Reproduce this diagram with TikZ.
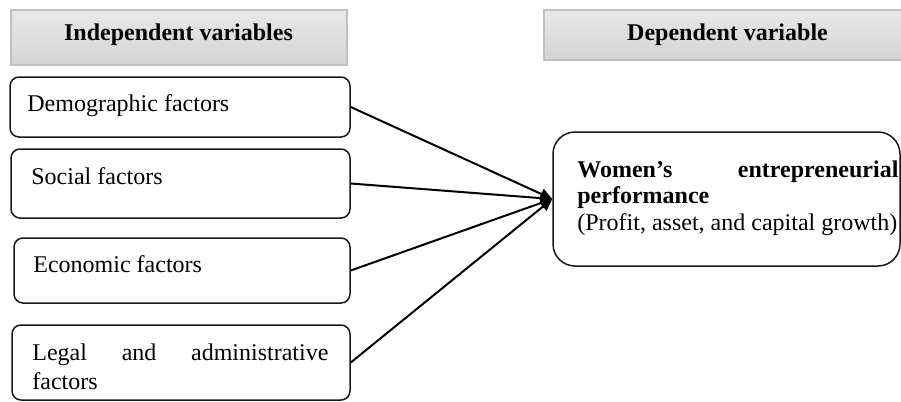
\documentclass[tikz,border=0pt]{standalone}
\usepackage{fontspec}
\setmainfont{Liberation Serif}
\usetikzlibrary{arrows.meta}
\definecolor{hdrtop}{RGB}{232,232,232}
\definecolor{hdrbot}{RGB}{212,212,212}
\definecolor{hdrline}{RGB}{192,192,192}
\tikzset{
  hdr/.style={rectangle, draw=hdrline, line width=0.6pt, top color=hdrtop, bottom color=hdrbot, inner sep=0pt},
  hdrtxt/.style={inner sep=0pt, anchor=base, font=\fontsize{12pt}{14pt}\selectfont\bfseries},
  fbox/.style={rectangle, rounded corners=4.5pt, draw=black!90, line width=0.75pt, inner sep=0pt},
  rbox/.style={rectangle, rounded corners=11pt, draw=black!90, line width=0.75pt, inner sep=0pt},
  txt/.style={inner sep=0pt, anchor=base west, font=\fontsize{12pt}{14pt}\selectfont},
  arr/.style={line width=1pt, -{Triangle[length=6pt,width=5.5pt]}},
}
\begin{document}
\begin{tikzpicture}[x=0.5pt,y=-0.5pt]
\useasboundingbox (0,0) rectangle (901,402);
% headers
\node[hdr, minimum width=168pt, minimum height=27.5pt] (h1) at (179,37.5) {};
\node[hdr, minimum width=183.5pt, minimum height=25pt] (h2) at (727.5,35) {};
\node[hdrtxt] (h1t) at (178.5,40) {Independent variables};
\node[hdrtxt] (h2t) at (727.5,40) {Dependent variable};
% left boxes
\node[fbox, minimum width=170pt, minimum height=30pt] (b1) at (180,107) {};
\node[fbox, minimum width=169.5pt, minimum height=34.5pt] (b2) at (180.5,183.5) {};
\node[fbox, minimum width=168pt, minimum height=32.5pt] (b3) at (182,270.5) {};
\node[fbox, minimum width=169pt, minimum height=37.5pt] (b4) at (181,362.5) {};
\node[txt] (t1) at (27,111) {Demographic factors};
\node[txt] (t2) at (31,184) {Social factors};
\node[txt] (t3) at (33,272) {Economic factors};
\node[txt] (t4) at (32,360) {\makebox[148pt][s]{Legal and administrative}};
\node[txt] (t4b) at (32,389) {factors};
% right box
\node[rbox, minimum width=173.5pt, minimum height=67pt] (r) at (726.5,199) {};
\node[txt] (rt1) at (577,177) {\makebox[160.5pt][s]{\bfseries Women’s entrepreneurial}};
\node[txt] (rt2) at (577,203) {\bfseries performance};
\node[txt] (rt3) at (577,230) {(Profit, asset, and capital growth)};
% connectors
\draw[arr] (b1.east) -- (r.west);
\draw[arr] (b2.east) -- (r.west);
\draw[arr] (b3.east) -- (r.west);
\draw[arr] (b4.east) -- (r.west);
\end{tikzpicture}
\end{document}
